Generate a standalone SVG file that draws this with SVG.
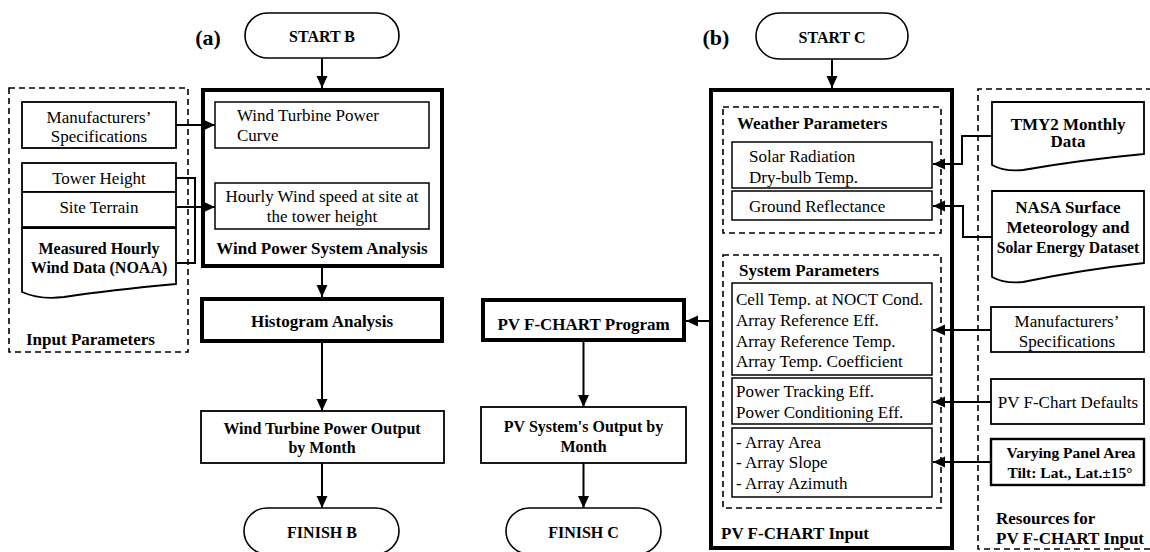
<svg xmlns="http://www.w3.org/2000/svg" width="1150" height="552" viewBox="0 0 1150 552">
  <defs>
    <marker id="ah" viewBox="0 0 12 12" refX="12" refY="6" markerWidth="12" markerHeight="12" markerUnits="userSpaceOnUse" orient="auto">
      <path d="M0,0.5 L12,6 L0,11.5 z" fill="#000"/>
    </marker>
    <style>
      text { font-family: "Liberation Serif", "Times New Roman", serif; font-size: 17px; fill: #000; }
      .b { font-weight: bold; }
      .c { text-anchor: middle; }
      .s16 { font-size: 16px; }
      .lbl { font-size: 22px; font-weight: bold; text-anchor: middle; }
      .box { fill: #fff; stroke: #000; stroke-width: 1.8; }
      .inner { fill: #fff; stroke: #000; stroke-width: 1.5; }
      .thick { fill: #fff; stroke: #000; stroke-width: 4; }
      .dash { fill: none; stroke: #000; stroke-width: 1.6; stroke-dasharray: 6 4; }
      .pill { fill: #fff; stroke: #000; stroke-width: 1.6; }
      .doc { fill: #fff; stroke: #000; stroke-width: 1.8; }
      .wire { fill: none; stroke: #000; stroke-width: 2; }
      .arrow { fill: none; stroke: #000; stroke-width: 2; marker-end: url(#ah); }
    </style>
  </defs>
  <rect width="1150" height="552" fill="#fff"/>

  <!-- panel labels -->
  <text class="lbl" x="208" y="45">(a)</text>
  <text class="lbl" x="716" y="45">(b)</text>

  <!-- ===== Panel (a): wind ===== -->
  <g id="input-parameters">
    <rect class="dash" x="9" y="88" width="179" height="264"/>
    <text class="b" x="26" y="345">Input Parameters</text>
  </g>
  <g id="manufacturers-specs-a">
    <rect class="box" x="22" y="102" width="154" height="46"/>
    <text class="c" x="99" y="123">Manufacturers’</text>
    <text class="c" x="99" y="142">Specifications</text>
  </g>
  <g id="tower-height">
    <rect class="box" x="22" y="163" width="154" height="29"/>
    <text class="c" x="99" y="184">Tower Height</text>
  </g>
  <g id="site-terrain">
    <rect class="box" x="22" y="192" width="154" height="35"/>
    <text class="c" x="99" y="213">Site Terrain</text>
  </g>
  <g id="measured-wind-data">
    <path class="doc" d="M22,228 H176 V284 Q110,290 64,297 Q40,300 22,292 Z"/>
    <text class="b c s16" x="99" y="254">Measured Hourly</text>
    <text class="b c s16" x="99" y="273">Wind Data (NOAA)</text>
  </g>

  <g id="start-b">
    <rect class="pill" x="245" y="13" width="154" height="45" rx="22.5"/>
    <text class="b c s16" x="322" y="42">START B</text>
  </g>
  <g id="wind-power-system-analysis">
    <rect class="thick" x="203" y="90" width="239" height="176"/>
    <text class="b c" x="322" y="254">Wind Power System Analysis</text>
  </g>
  <g id="power-curve">
    <rect class="inner" x="215" y="102" width="214" height="46"/>
    <text x="237" y="121">Wind Turbine Power</text>
    <text x="237" y="141">Curve</text>
  </g>
  <g id="hourly-wind-speed">
    <rect class="inner" x="215" y="183" width="214" height="46"/>
    <text class="c" x="322" y="202">Hourly Wind speed at site at</text>
    <text class="c" x="322" y="222">the tower height</text>
  </g>
  <g id="histogram-analysis">
    <rect class="thick" x="202" y="299" width="240" height="42"/>
    <text class="b c" x="322" y="327">Histogram Analysis</text>
  </g>
  <g id="wind-output">
    <rect class="box" x="201" y="411" width="243" height="52"/>
    <text class="b c s16" x="322" y="434">Wind Turbine Power Output</text>
    <text class="b c s16" x="322" y="453">by Month</text>
  </g>
  <g id="finish-b">
    <rect class="pill" x="244" y="508" width="155" height="46" rx="23"/>
    <text class="b c s16" x="322" y="538">FINISH B</text>
  </g>

  <!-- ===== Panel (b): photovoltaic ===== -->
  <g id="start-c">
    <rect class="pill" x="756" y="13" width="152" height="46" rx="23"/>
    <text class="b c s16" x="832" y="43">START C</text>
  </g>
  <g id="pv-fchart-input">
    <rect class="thick" x="711" y="90" width="241" height="458"/>
    <text class="b" x="721" y="539">PV F-CHART Input</text>
  </g>
  <g id="weather-parameters">
    <rect class="dash" x="723" y="107" width="218" height="126"/>
    <text class="b" x="737" y="129">Weather Parameters</text>
  </g>
  <g id="solar-radiation">
    <rect class="inner" x="732" y="142" width="200" height="46"/>
    <text x="749" y="162">Solar Radiation</text>
    <text x="749" y="183">Dry-bulb Temp.</text>
  </g>
  <g id="ground-reflectance">
    <rect class="inner" x="732" y="191" width="200" height="29"/>
    <text x="749" y="212">Ground Reflectance</text>
  </g>
  <g id="system-parameters">
    <rect class="dash" x="723" y="255" width="218" height="253"/>
    <text class="b" x="739" y="276">System Parameters</text>
  </g>
  <g id="array-properties">
    <rect class="inner" x="732" y="283" width="200" height="92"/>
    <text x="736" y="305">Cell Temp. at NOCT Cond.</text>
    <text x="736" y="326">Array Reference Eff.</text>
    <text x="736" y="347">Array Reference Temp.</text>
    <text x="736" y="367">Array Temp. Coefficient</text>
  </g>
  <g id="efficiencies">
    <rect class="inner" x="732" y="378" width="200" height="46"/>
    <text x="736" y="397">Power Tracking Eff.</text>
    <text x="736" y="418">Power Conditioning Eff.</text>
  </g>
  <g id="array-geometry">
    <rect class="inner" x="732" y="428" width="200" height="69"/>
    <text x="736" y="448">- Array Area</text>
    <text x="736" y="468">- Array Slope</text>
    <text x="736" y="489">- Array Azimuth</text>
  </g>

  <g id="resources">
    <path class="dash" d="M1152,89 H978 V549 H1152"/>
    <text class="b" x="996" y="524">Resources for</text>
    <text class="b" x="996" y="544">PV F-CHART Input</text>
  </g>
  <g id="tmy2-data">
    <path class="doc" d="M992,102 H1144 V154 Q1080,160 1023,170 Q1005,172 992,165 Z"/>
    <text class="b c" x="1068" y="130">TMY2 Monthly</text>
    <text class="b c" x="1068" y="147">Data</text>
  </g>
  <g id="nasa-dataset">
    <path class="doc" d="M992,191 H1144 V263 Q1080,270 1023,282 Q1005,284 992,277 Z"/>
    <text class="b c" x="1068" y="213">NASA Surface</text>
    <text class="b c" x="1068" y="233">Meteorology and</text>
    <text class="b c" x="1068" y="253" style="font-size:15.7px">Solar Energy Dataset</text>
  </g>
  <g id="manufacturers-specs-b">
    <rect class="box" x="991" y="307" width="153" height="45"/>
    <text class="c" x="1067" y="327">Manufacturers’</text>
    <text class="c" x="1067" y="347">Specifications</text>
  </g>
  <g id="pv-fchart-defaults">
    <rect class="box" x="991" y="379" width="153" height="45"/>
    <text class="c" x="1068" y="408">PV F-Chart Defaults</text>
  </g>
  <g id="varying-panel-area">
    <rect class="box" x="991" y="439" width="153" height="46" style="stroke-width:2.4"/>
    <text class="b c" x="1071" y="458" style="font-size:15.5px">Varying Panel Area</text>
    <text class="b c" x="1070" y="478" style="font-size:15.5px">Tilt: Lat., Lat.±15°</text>
  </g>

  <g id="pv-fchart-program">
    <rect class="thick" x="483" y="300" width="201" height="40"/>
    <text class="b c" x="583.5" y="330">PV F-CHART Program</text>
  </g>
  <g id="pv-output">
    <rect class="box" x="481" y="407" width="205" height="56"/>
    <text class="b c s16" x="583.5" y="432">PV System's Output by</text>
    <text class="b c s16" x="583.5" y="452">Month</text>
  </g>
  <g id="finish-c">
    <rect class="pill" x="506" y="508" width="155" height="46" rx="23"/>
    <text class="b c s16" x="583.5" y="538">FINISH C</text>
  </g>

  <!-- connectors -->
  <g id="connectors">
    <!-- wind flow -->
    <line class="arrow" x1="322" y1="58" x2="322" y2="88"/>
    <line class="arrow" x1="176" y1="125" x2="215" y2="125"/>
    <polyline class="wire" points="176,178 195,178 195,263 176,263"/>
    <line class="arrow" x1="176" y1="207" x2="215" y2="207"/>
    <line class="arrow" x1="322" y1="268" x2="322" y2="297"/>
    <line class="arrow" x1="322" y1="343" x2="322" y2="411"/>
    <line class="arrow" x1="322" y1="463" x2="322" y2="508"/>

    <!-- photovoltaic flow -->
    <line class="arrow" x1="832" y1="59" x2="832" y2="88"/>
    <polyline class="arrow" points="992,136 962,136 962,164 933,164"/>
    <polyline class="arrow" points="992,237 963,237 963,206 933,206"/>
    <line class="arrow" x1="991" y1="330" x2="933" y2="330"/>
    <line class="arrow" x1="991" y1="402" x2="933" y2="402"/>
    <line class="arrow" x1="991" y1="462" x2="933" y2="462"/>
    <line class="arrow" x1="709" y1="321" x2="686" y2="321"/>
    <line class="arrow" x1="583.5" y1="342" x2="583.5" y2="407"/>
    <line class="arrow" x1="583.5" y1="463" x2="583.5" y2="508"/>
  </g>
</svg>
